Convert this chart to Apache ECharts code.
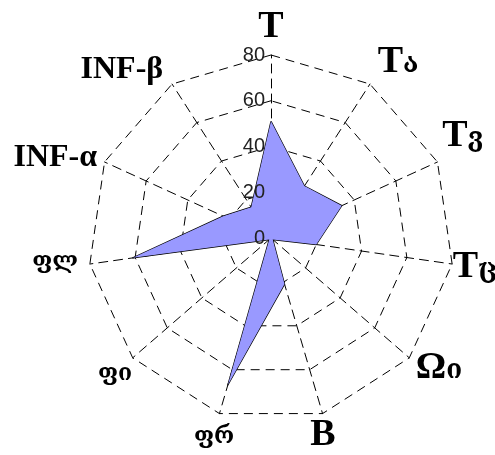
<!DOCTYPE html>
<html>
<head>
<meta charset="utf-8">
<script src="https://cdn.jsdelivr.net/npm/echarts@6/dist/echarts.min.js"></script>
<style>
  html, body { margin: 0; padding: 0; background: #fff; }
  #chart { width: 495px; height: 455px; }
</style>
</head>
<body>
<div id="chart"></div>
<script>
// Axis names, listed clockwise starting from the top: main part and suffix
const namesMain = ['T', 'T', 'T', 'T', 'Ω', 'B', 'ფრ', 'ფი', 'ფლ', 'INF-α', 'INF-β'];
const namesSuffix = ['', 'ა', 'ვ', 'ც', 'ი', '', '', '', '', '', ''];
// Measured values for each axis (same order)
const values = [51, 27, 34, 20, 1, 21, 67, 1, 61, 23, 16];
// Radial scale
const scaleMax = 80;
const tickStep = 20;

// Nudges (px, right/down) applied to the axis names around the web
const nameShift = [[0, 2], [12, 3], [-2, -13], [-7, -1], [7, -9], [-8, -7],
                   [3, -5], [5, -3], [-5, -6], [-22, 8], [-34, 11]];

const serif = '"Liberation Serif", "DejaVu Serif", serif';
const geo = '"DejaVu Serif", "DejaVu Sans", serif';
const baseStyle = {
  b: { fontFamily: serif, fontWeight: 'bold', fontSize: 38, color: '#000' },
  s: { fontFamily: serif, fontWeight: 'bold', fontSize: 32, color: '#000' },
  g: { fontFamily: geo, fontWeight: 'bold', fontSize: 23, color: '#000' },
  x: { fontFamily: geo, fontWeight: 'bold', fontSize: 26, color: '#000' }
};
const styleOf = (main) => /^[A-ZΩ]$/.test(main) ? 'b' : (main.indexOf('INF') === 0 ? 's' : 'g');

// One pair of rich styles per name, carrying that name's nudge as padding
const rich = {};
namesMain.forEach((m, i) => {
  const [dx, dy] = nameShift[i];
  const vTop = Math.max(0, 2 * dy), vBot = Math.max(0, -2 * dy);
  const hasSuf = namesSuffix[i] !== '';
  rich['m' + i] = Object.assign({}, baseStyle[styleOf(m)], {
    padding: [vTop, hasSuf ? 0 : Math.max(0, -2 * dx), vBot, Math.max(0, 2 * dx)]
  });
  rich['x' + i] = Object.assign({}, baseStyle.x, {
    padding: [vTop + 6, Math.max(0, -2 * dx), vBot, 0]
  });
});

const categories = namesMain.map((m, i) => m + namesSuffix[i]);
// ECharts lays radar indicators out counter-clockwise, so walk the list backwards after the first one
const order = [0].concat(categories.map((_, i) => i).slice(1).reverse());
const indicator = order.map(i => ({ name: categories[i], max: scaleMax, min: 0 }));
const seriesValues = order.map(i => values[i]);

const CENTER = [271, 238];
const RADIUS = 183;
const dash = [9, 6];

const chart = echarts.init(document.getElementById('chart'), null, { renderer: 'canvas' });
chart.setOption({
  animation: false,
  backgroundColor: '#ffffff',
  radar: {
    center: CENTER,
    radius: RADIUS,
    startAngle: 90,
    splitNumber: scaleMax / tickStep,
    shape: 'polygon',
    indicator: indicator,
    nameGap: 30,
    axisName: {
      color: '#000',
      align: 'center',
      verticalAlign: 'middle',
      formatter: function (name) {
        const i = categories.indexOf(name);
        return '{m' + i + '|' + namesMain[i] + '}' + (namesSuffix[i] ? '{x' + i + '|' + namesSuffix[i] + '}' : '');
      },
      rich: rich
    },
    axisLine: { lineStyle: { color: '#000', width: 1, type: dash } },
    splitLine: { lineStyle: { color: '#000', width: 1, type: dash } },
    splitArea: { show: false },
    axisTick: { show: false },
    axisLabel: { show: false }
  },
  // Polar overlay used only to print the radial tick labels along the top axis
  polar: { center: CENTER, radius: RADIUS },
  angleAxis: { show: false, startAngle: 90, min: 0, max: 360 },
  radiusAxis: {
    z: 10,
    min: 0, max: scaleMax, interval: tickStep,
    axisLine: { show: false },
    axisTick: { show: false },
    splitLine: { show: false },
    axisLabel: {
      show: true,
      color: '#222',
      fontFamily: '"Liberation Sans", Arial, sans-serif',
      fontSize: 20,
      margin: 6
    }
  },
  series: [{
    type: 'radar',
    symbol: 'none',
    lineStyle: { color: '#000', width: 1.3 },
    areaStyle: { color: '#9999ff', opacity: 1 },
    data: [{ value: seriesValues }]
  }]
});
</script>
</body>
</html>
